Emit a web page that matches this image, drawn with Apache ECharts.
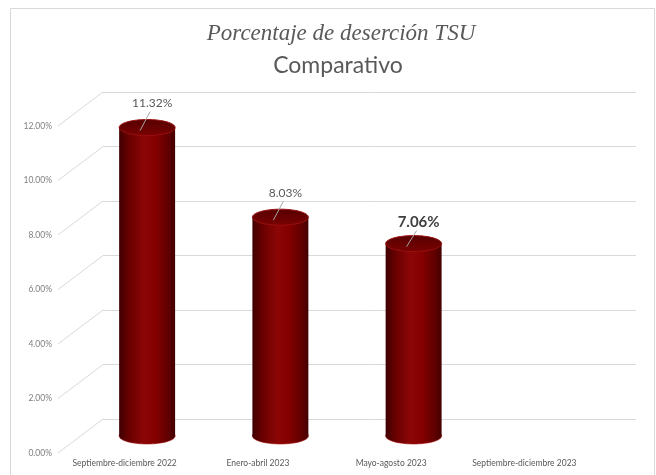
<!DOCTYPE html>
<html>
<head>
<meta charset="utf-8">
<script src="https://cdn.jsdelivr.net/npm/echarts@6/dist/echarts.min.js"></script>
<style>
  html, body { margin: 0; padding: 0; background: #fff; }
  #chart { width: 656px; height: 475px; }
</style>
</head>
<body>
<div id="chart"></div>
<script>
// datos
const categories = ['Septiembre-diciembre 2022', 'Enero-abril 2023', 'Mayo-agosto 2023', 'Septiembre-diciembre 2023']
const values = [11.32, 8.03, 7.06, null]
const yTicks = [0, 2, 4, 6, 8, 10, 12]
const highlightIndex = 2 // la etiqueta en negrita

const myChart = echarts.init(document.getElementById('chart'))

// tres planos: frente (etiquetas), fondo (lineas), medio (cilindros)
const FRONT = { left: 58, right: 65, top: 126, bottom: 22 }
const BACK = { left: 103, right: 20, top: 92, bottom: 56 }
const MID = { left: 80.5, right: 42.5, top: 109, bottom: 39 }
const font = 'Lato'

// cuerpo del cilindro
const bodyFill = new echarts.graphic.LinearGradient(0, 0, 1, 0, [
  { offset: 0, color: '#3f0000' },
  { offset: 0.18, color: '#6a0000' },
  { offset: 0.45, color: '#8c0606' },
  { offset: 0.65, color: '#840000' },
  { offset: 0.9, color: '#5c0000' },
  { offset: 1, color: '#430000' },
])
const topFill = new echarts.graphic.LinearGradient(0, 0, 0, 1, [
  { offset: 0, color: '#560000' },
  { offset: 1, color: '#7a0202' },
])

function renderCylinder(params, api) {
  const idx = api.value(0)
  const v = api.value(1)
  const top = api.coord([idx, v])
  const base = api.coord([idx, 0])
  const bw = api.size([1, 0])[0] * 0.42
  const rx = bw / 2
  const ry = 8
  const bold = idx === highlightIndex
  const ly = top[1] - (bold ? 21 : 24)
  return {
    type: 'group',
    children: [
      {
        type: 'ellipse',
        shape: { cx: top[0], cy: base[1], rx: rx, ry: ry },
        style: { fill: bodyFill, stroke: '#a51010', lineWidth: 0.6 },
      },
      {
        type: 'rect',
        shape: { x: top[0] - rx, y: top[1], width: bw, height: base[1] - top[1] },
        style: { fill: bodyFill },
      },
      {
        type: 'ellipse',
        shape: { cx: top[0], cy: top[1], rx: rx, ry: ry },
        style: { fill: topFill, stroke: '#9a1010', lineWidth: 1 },
      },
      {
        type: 'line',
        shape: { x1: top[0] + 3, y1: ly + 8, x2: top[0] - 7, y2: top[1] + 3 },
        style: { stroke: '#a6a6a6', lineWidth: 1 },
      },
      {
        type: 'text',
        style: {
          text: v.toFixed(2) + '%',
          x: top[0] + 5,
          y: ly,
          align: 'center',
          verticalAlign: 'middle',
          fill: bold ? '#404040' : '#595959',
          font: (bold ? 'bold 15px ' : '12px ') + font,
        },
      },
    ],
  }
}

// lineas inclinadas de la pared lateral
function renderSide(params, api) {
  const t = api.value(1)
  const cs = params.coordSys
  const by = api.coord([0, t])[1]
  const dx = BACK.left - FRONT.left
  const dy = BACK.bottom - FRONT.bottom
  return {
    type: 'line',
    shape: { x1: cs.x - dx, y1: by + dy, x2: cs.x, y2: by },
    style: { stroke: '#d9d9d9', lineWidth: 1 },
  }
}

const valueAxis = {
  type: 'value',
  min: 0,
  max: 12,
  interval: 2,
}

const option = {
  animation: false,
  graphic: [
    {
      type: 'rect',
      shape: { x: 10.5, y: 8.5, width: 644, height: 480 },
      style: { fill: 'none', stroke: '#d9d9d9', lineWidth: 1 },
      silent: true,
    },
  ],
  title: [
    {
      text: 'Porcentaje de deserción TSU',
      left: 336,
      textAlign: 'center',
      top: 17,
      textStyle: {
        fontFamily: 'Liberation Serif',
        fontStyle: 'italic',
        fontWeight: 'normal',
        fontSize: 23,
        color: '#595959',
      },
    },
    {
      text: 'Comparativo',
      left: 333,
      textAlign: 'center',
      top: 49,
      textStyle: {
        fontFamily: font,
        fontWeight: 'normal',
        fontSize: 23,
        color: '#595959',
      },
    },
  ],
  grid: [FRONT, BACK, MID],
  xAxis: [
    {
      type: 'category',
      gridIndex: 0,
      data: categories,
      axisLine: { show: false },
      axisTick: { show: false },
      axisLabel: { color: '#595959', fontSize: 8.5, fontFamily: font, margin: 6, interval: 0 },
    },
    { type: 'category', gridIndex: 1, data: categories, show: false },
    { type: 'category', gridIndex: 2, data: categories, show: false },
  ],
  yAxis: [
    Object.assign({}, valueAxis, {
      gridIndex: 0,
      axisLine: { show: false },
      axisTick: { show: false },
      splitLine: { show: false },
      axisLabel: {
        color: '#7f7f7f',
        fontSize: 8.5,
        fontFamily: font,
        margin: 6,
        formatter: (v) => v.toFixed(2) + '%',
      },
    }),
    Object.assign({}, valueAxis, {
      gridIndex: 1,
      axisLine: { show: false },
      axisTick: { show: false },
      axisLabel: { show: false },
      splitLine: { show: true, lineStyle: { color: '#d9d9d9', width: 1 } },
    }),
    Object.assign({}, valueAxis, { gridIndex: 2, show: false, splitLine: { show: false } }),
  ],
  series: [
    {
      type: 'custom',
      xAxisIndex: 1,
      yAxisIndex: 1,
      silent: true,
      renderItem: renderSide,
      data: yTicks.map((t) => [0, t]),
    },
    {
      type: 'custom',
      xAxisIndex: 2,
      yAxisIndex: 2,
      renderItem: renderCylinder,
      data: values.map((v, i) => [i, v]).filter((d) => d[1] != null),
    },
  ],
}
option && myChart.setOption(option)
</script>
</body>
</html>
